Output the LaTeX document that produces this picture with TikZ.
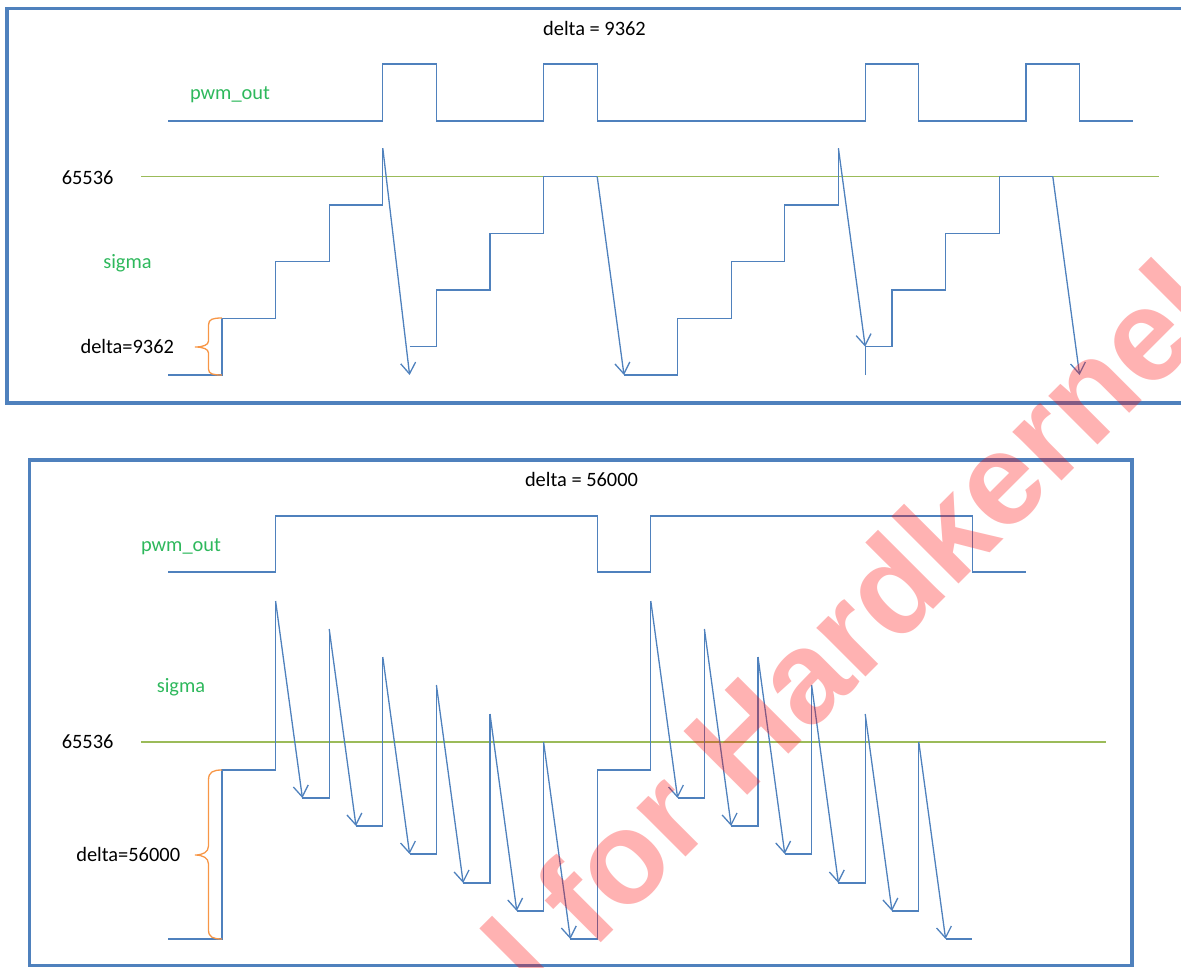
\documentclass[tikz,border=0pt]{standalone}
\usepackage{fontspec}
\setmainfont{Carlito}
\newfontfamily\wmfont{Liberation Sans}
\usetikzlibrary{arrows.meta}
\definecolor{sigblue}{HTML}{4F81BD}
\definecolor{boxblue}{HTML}{4F81BD}
\definecolor{thrgreen}{HTML}{9BBB59}
\definecolor{lblgreen}{HTML}{2EB85C}
\definecolor{braceor}{HTML}{F79646}
\begin{document}
\begin{tikzpicture}[x=1pt,y=-1pt,
  declare function={g(\k)=168.4+53.6*\k; L(\v)=375-56.7*\v;},
  sig/.style={draw=sigblue, line width=1.3pt, line join=miter},
  arr/.style={sig, -{Straight Barb[length=11pt,width=15pt]}},
  frame/.style={draw=boxblue, line width=3.2pt},
  thr/.style={draw=thrgreen, line width=1.3pt},
  brc/.style={draw=braceor, line width=1.3pt},
  lbl/.style={font=\fontsize{20.4}{24}\selectfont, text=black, inner sep=0pt, anchor=base},
  glbl/.style={lbl, text=lblgreen},
  wm/.style={font=\wmfont\bfseries\fontsize{131}{135}\selectfont, text=red, text opacity=0.3, rotate=45, inner sep=0pt}]
\useasboundingbox (0,0) rectangle (1181,967);
\clip (0,0) rectangle (1181,967);
% frames
\draw[frame] (7,8.5) rectangle (1200,403);
\draw[frame] (29.5,460) rectangle (1132,965.3);

% ---------------- top panel ----------------
\node[lbl] (tdelta) at (594.5,35) {delta = 9362};
\node[glbl] (tpwm) at (230,99.5) {pwm\_out};
\node[lbl] (tmax) at (87.6,184) {65536};
\node[glbl] (tsig) at (127.5,268.3) {sigma};
\node[lbl] (tstep) at (127.3,353.3) {delta=9362};

\draw[thr] (141,{L(3.5)}) -- (1159,{L(3.5)});

\draw[sig] ({g(0)},121) -- ({g(4)},121) -- ({g(4)},64) -- ({g(5)},64) -- ({g(5)},121)
  -- ({g(7)},121) -- ({g(7)},64) -- ({g(8)},64) -- ({g(8)},121)
  -- ({g(13)},121) -- ({g(13)},64) -- ({g(14)},64) -- ({g(14)},121)
  -- ({g(16)},121) -- ({g(16)},64) -- ({g(17)},64) -- ({g(17)},121) -- ({g(18)},121);

% staircase 1
\draw[sig] ({g(0)},{L(0)}) -- ({g(1)},{L(0)}) -- ({g(1)},{L(1)}) -- ({g(2)},{L(1)}) -- ({g(2)},{L(2)})
  -- ({g(3)},{L(2)}) -- ({g(3)},{L(3)}) -- ({g(4)},{L(3)}) -- ({g(4)},{L(4)});
\draw[arr] ({g(4)},{L(4)}) -- ({g(4.5)},{L(0)});
% staircase 2
\draw[sig] ({g(4.5)},{L(0.5)}) -- ({g(5)},{L(0.5)}) -- ({g(5)},{L(1.5)}) -- ({g(6)},{L(1.5)}) -- ({g(6)},{L(2.5)})
  -- ({g(7)},{L(2.5)}) -- ({g(7)},{L(3.5)}) -- ({g(8)},{L(3.5)});
\draw[arr] ({g(8)},{L(3.5)}) -- ({g(8.5)},{L(0)});
% staircase 3
\draw[sig] ({g(8.5)},{L(0)}) -- ({g(9.5)},{L(0)}) -- ({g(9.5)},{L(1)}) -- ({g(10.5)},{L(1)}) -- ({g(10.5)},{L(2)})
  -- ({g(11.5)},{L(2)}) -- ({g(11.5)},{L(3)}) -- ({g(12.5)},{L(3)}) -- ({g(12.5)},{L(4)});
\draw[arr] ({g(12.5)},{L(4)}) -- ({g(13)},{L(0.5)});
% staircase 4
\draw[sig] ({g(13)},{L(0)}) -- ({g(13)},{L(0.5)}) -- ({g(13.5)},{L(0.5)}) -- ({g(13.5)},{L(1.5)}) -- ({g(14.5)},{L(1.5)})
  -- ({g(14.5)},{L(2.5)}) -- ({g(15.5)},{L(2.5)}) -- ({g(15.5)},{L(3.5)}) -- ({g(16.5)},{L(3.5)});
\draw[arr] ({g(16.5)},{L(3.5)}) -- ({g(17)},{L(0)});

% brace top
\draw[brc] (222,318) .. controls (213,318) and (208.5,319) .. (208.5,325) -- (208.5,341)
  .. controls (208.5,345) and (203,347) .. (195,347) .. controls (203,347) and (208.5,349) .. (208.5,353)
  -- (208.5,369) .. controls (208.5,374) and (213,375) .. (222,375);

% ---------------- bottom panel ----------------
\node[lbl] (bdelta) at (581.5,486) {delta = 56000};
\node[glbl] (bpwm) at (181,551) {pwm\_out};
\node[glbl] (bsig) at (181,692) {sigma};
\node[lbl] (bmax) at (87.6,748.2) {65536};
\node[lbl] (bstep) at (128.2,861.8) {delta=56000};

\draw[thr] (141,742) -- (1106,742);

\draw[sig] ({g(0)},572) -- ({g(2)},572) -- ({g(2)},516) -- ({g(8)},516) -- ({g(8)},572)
  -- ({g(9)},572) -- ({g(9)},516) -- ({g(15)},516) -- ({g(15)},572) -- ({g(16)},572);

\draw[sig] ({g(0)},939) -- ({g(1)},939) -- ({g(1)},770) -- ({g(2)},770) -- ({g(2)},601);
\foreach \s in {0,7}{
  \foreach \k/\pk/\bk/\pn in {0/601/798/629, 1/629/826/657, 2/657/854/685, 3/685/883/714, 4/714/911/742}{
    \draw[arr] ({g(2+\s+\k)},\pk) -- ({g(2.5+\s+\k)},\bk);
    \draw[sig] ({g(2.5+\s+\k)},\bk) -- ({g(3+\s+\k)},\bk) -- ({g(3+\s+\k)},\pn);
  }
  \draw[arr] ({g(7+\s)},742) -- ({g(7.5+\s)},939);
}
\draw[sig] ({g(7.5)},939) -- ({g(8)},939) -- ({g(8)},770) -- ({g(9)},770) -- ({g(9)},601);
\draw[sig] ({g(14.5)},939) -- ({g(15)},939);

% brace bottom
\draw[brc] (222,770) .. controls (213,770) and (208.5,772) .. (208.5,780) -- (208.5,846)
  .. controls (208.5,852) and (203,855) .. (195,855) .. controls (203,855) and (208.5,858) .. (208.5,864)
  -- (208.5,930) .. controls (208.5,937) and (213,939) .. (222,939);

% watermark
\node[wm] (wmark) at (850,627) {l for Hardkernel};
\end{tikzpicture}
\end{document}
